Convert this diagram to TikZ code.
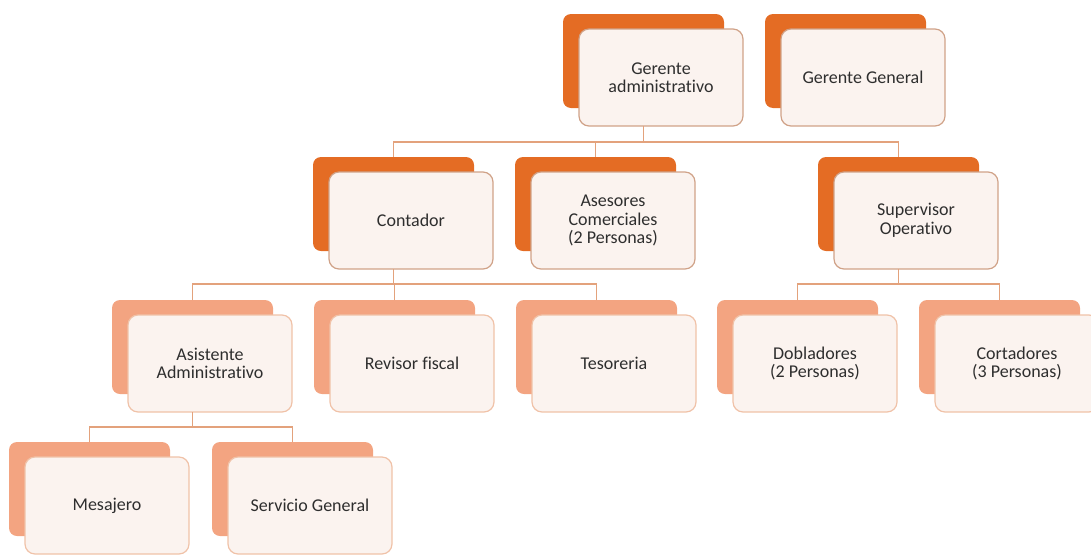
\documentclass[tikz,border=0pt]{standalone}
\usepackage{fontspec}
\setmainfont{Carlito}[Ligatures=NoCommon]
\definecolor{darkor}{HTML}{E46C24}
\definecolor{lightor}{HTML}{F3A481}
\definecolor{frontfill}{HTML}{FBF3EF}
\definecolor{borderdark}{HTML}{D0A288}
\definecolor{borderlight}{HTML}{F0C2A8}
\definecolor{linecol}{HTML}{E3A27C}
\definecolor{txt}{HTML}{2E2E2E}
\tikzset{
 backbox/.style={draw=none, rounded corners=8pt, minimum width=161pt, minimum height=94pt, inner sep=0pt, outer sep=0pt},
 frontbox/.style={rounded corners=10pt, fill=frontfill, minimum width=164pt, minimum height=97pt, align=center, inner sep=0pt, outer sep=0pt, font=\fontsize{18}{18.5}\selectfont, text=txt, line width=1.2pt},
 conn/.style={draw=linecol, line width=1.3pt},
}
\newcommand\orgunit[6]{%
 \node[backbox, fill=#4] (#1b) at ({#2+80.5},{#3+47}) {};
 \node[frontbox, draw=#5] (#1) at ({#2+16+82},{#3+15+48.5}) {#6};
}
\begin{document}
\begin{tikzpicture}[x=1pt,y=-1pt]
\useasboundingbox (0,0) rectangle (1091,555);
% level 0
\orgunit{ga}{563}{14}{darkor}{borderdark}{Gerente\\administrativo}
\orgunit{gg}{765}{14}{darkor}{borderdark}{Gerente General}
% level 1
\orgunit{co}{313}{157}{darkor}{borderdark}{Contador}
\orgunit{as}{515}{157}{darkor}{borderdark}{Asesores\\Comerciales\\(2 Personas)}
\orgunit{su}{818}{157}{darkor}{borderdark}{Supervisor\\Operativo}
% level 2
\orgunit{ai}{112}{300}{lightor}{borderlight}{Asistente\\Administrativo}
\orgunit{rf}{314}{300}{lightor}{borderlight}{Revisor fiscal}
\orgunit{te}{516}{300}{lightor}{borderlight}{Tesoreria}
\orgunit{do}{717}{300}{lightor}{borderlight}{Dobladores\\(2 Personas)}
\orgunit{ct}{919}{300}{lightor}{borderlight}{Cortadores\\(3 Personas)}
% level 3
\orgunit{me}{9}{442}{lightor}{borderlight}{Mesajero}
\orgunit{sg}{212}{442}{lightor}{borderlight}{Servicio General}
% connectors
\draw[conn] (gab.south |- ga.south) -- ++(0,16) coordinate (bus0);
\draw[conn] (cob.north) |- (bus0);
\draw[conn] (asb.north) |- (bus0);
\draw[conn] (sub.north) |- (bus0);
\draw[conn] (cob.south |- co.south) -- ++(0,15) coordinate (bus1);
\draw[conn] (aib.north) |- (bus1);
\draw[conn] (rfb.north) |- (bus1);
\draw[conn] (teb.north) |- (bus1);
\draw[conn] (sub.south |- su.south) -- ++(0,15) coordinate (bus2);
\draw[conn] (dob.north) |- (bus2);
\draw[conn] (ctb.north) |- (bus2);
\draw[conn] (aib.south |- ai.south) -- ++(0,15) coordinate (bus3);
\draw[conn] (meb.north) |- (bus3);
\draw[conn] (sgb.north) |- (bus3);
\end{tikzpicture}
\end{document}
